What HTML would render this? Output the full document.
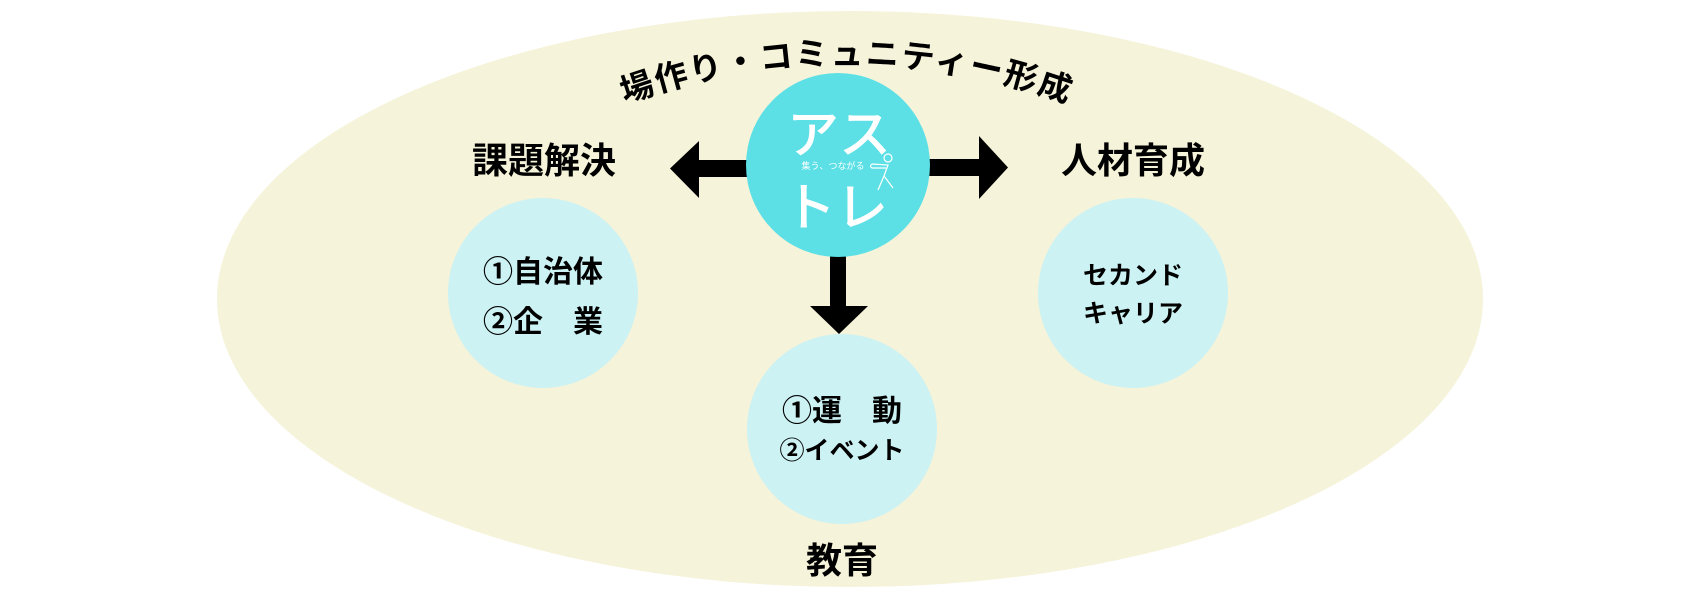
<!DOCTYPE html>
<html><head><meta charset="utf-8"><style>
html,body{margin:0;padding:0;background:#fff;}
svg{display:block;}
text{font-family:"Liberation Sans","Noto Sans CJK JP",sans-serif;font-weight:bold;}
</style></head><body>
<svg width="1700" height="600" viewBox="0 0 1700 600" xmlns="http://www.w3.org/2000/svg">
<ellipse cx="850" cy="299" rx="633" ry="288" fill="#f5f3d9"/>
<defs><path id="arc" d="M 567 128 A 650 650 0 0 1 1127 128" fill="none"/></defs>
<text font-size="33" fill="#000" letter-spacing="2"><textPath href="#arc" startOffset="50%" text-anchor="middle">場作り・コミュニティー形成</textPath></text>
<!-- arrows -->
<rect x="699" y="160" width="52" height="17" fill="#000"/>
<polygon points="670,168.5 699,141 699,198" fill="#000"/>
<rect x="928" y="159" width="52" height="17" fill="#000"/>
<polygon points="1008,167.5 979,136 979,199" fill="#000"/>
<rect x="830" y="254" width="16" height="53" fill="#000"/>
<polygon points="810,306 868,306 839,334" fill="#000"/>
<!-- logo -->
<circle cx="838" cy="165" r="92" fill="#5ce0e6"/>
<text x="839" y="153" font-size="52" fill="#fff" text-anchor="middle" style="font-weight:500">アス</text>
<text x="833" y="169" font-size="9" fill="#fff" text-anchor="middle" style="font-weight:normal">集う、つながる</text>
<text x="836" y="226" font-size="52" fill="#fff" text-anchor="middle" style="font-weight:500">トレ</text>
<g stroke="#fff" stroke-width="1.2" fill="none">
<circle cx="888" cy="158" r="4"/>
<path d="M872 164 L888 165 L884 176 L878 190 M884 176 L893 188 M872 164 q-3 2 0 4 L886 168"/>
</g>
<!-- circles -->
<circle cx="543" cy="293" r="95" fill="#ccf2f4"/>
<circle cx="1133" cy="293" r="95" fill="#ccf2f4"/>
<circle cx="842" cy="429" r="95" fill="#ccf2f4"/>
<g fill="#000" text-anchor="middle">
<text x="544" y="173" font-size="36">課題解決</text>
<text x="1133" y="173" font-size="36">人材育成</text>
<text x="842" y="573" font-size="36">教育</text>
<text x="543" y="282" font-size="30">①自治体</text>
<text x="543" y="332" font-size="30">②企　業</text>
<text x="1133" y="284" font-size="25">セカンド</text>
<text x="1133" y="322" font-size="25">キャリア</text>
<text x="842" y="421" font-size="30">①運　動</text>
<text x="842" y="459" font-size="25">②イベント</text>
</g>
</svg>
</body></html>
